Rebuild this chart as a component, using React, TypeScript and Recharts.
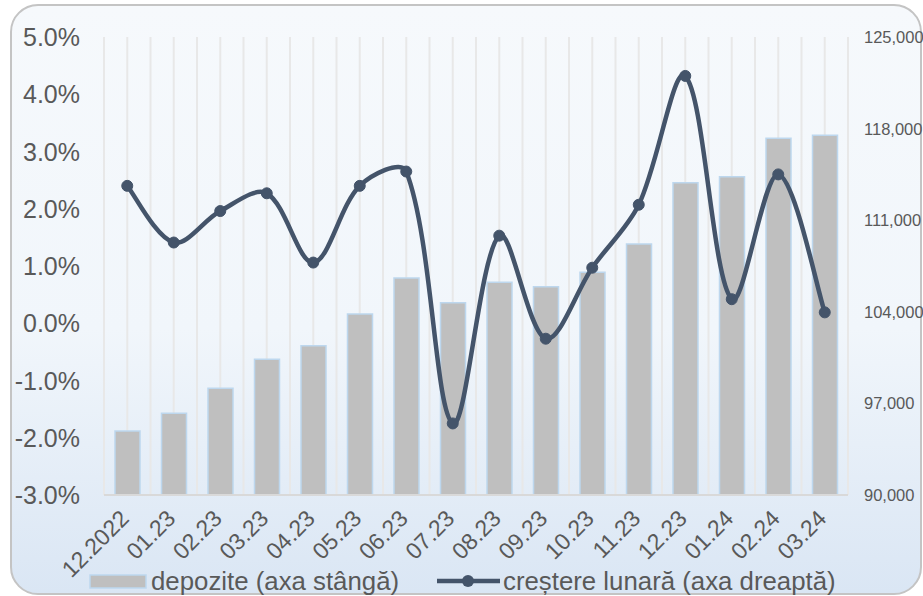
import React from 'react';
import { ComposedChart, Bar, Line, XAxis, YAxis, CartesianGrid } from 'recharts';

const categories = ['12.2022', '01.23', '02.23', '03.23', '04.23', '05.23', '06.23', '07.23', '08.23', '09.23', '10.23', '11.23', '12.23', '01.24', '02.24', '03.24'];
const deposits = [94900, 96240, 98150, 100370, 101400, 103830, 106580, 104700, 106250, 105920, 107020, 109180, 113870, 114320, 117260, 117490];
const growth = [2.40, 1.41, 1.96, 2.27, 1.06, 2.40, 2.65, -1.75, 1.53, -0.27, 0.97, 2.07, 4.32, 0.42, 2.60, 0.19];
const leftTicks = [-3, -2, -1, 0, 1, 2, 3, 4, 5];
const rightTicks = [90000, 97000, 104000, 111000, 118000, 125000];
const barLegend = 'depozite (axa stângă)';
const lineLegend = 'creștere lunară (axa dreaptă)';

const data = categories.map((c, i) => ({ cat: c, dep: deposits[i], gr: growth[i] }));

const FONT = '"Liberation Sans", Arial, sans-serif';
const TXT = '#595959';
const LINE = '#44546A';

// Excel-like smoothed curve (chord-length weighted Catmull-Rom via Bezier)
const excelCurve: any = (context: any) => {
  let pts: number[][] = [];
  const dist = (a: number[], b: number[]) => Math.hypot(b[0] - a[0], b[1] - a[1]);
  return {
    areaStart() {},
    areaEnd() {},
    lineStart() { pts = []; },
    point(x: number, y: number) { pts.push([+x, +y]); },
    lineEnd() {
      const n = pts.length;
      if (!n) return;
      context.moveTo(pts[0][0], pts[0][1]);
      if (n === 1) { context.lineTo(pts[0][0], pts[0][1]); return; }
      const outC: number[][] = [];
      const inC: number[][] = [];
      for (let i = 0; i < n; i++) {
        const p = pts[i];
        const prev = pts[i - 1] || pts[i];
        const next = pts[i + 1] || pts[i];
        const tx = next[0] - prev[0];
        const ty = next[1] - prev[1];
        const dPrev = dist(prev, p);
        const dNext = dist(p, next);
        const sum = dPrev + dNext || 1;
        let fOut = dNext / sum / 3;
        let fIn = dPrev / sum / 3;
        if (i === 0) { fOut = 1 / 6; }
        if (i === n - 1) { fIn = 1 / 6; }
        outC.push([p[0] + tx * fOut, p[1] + ty * fOut]);
        inC.push([p[0] - tx * fIn, p[1] - ty * fIn]);
      }
      for (let i = 0; i < n - 1; i++) {
        const a = outC[i];
        const b = inC[i + 1];
        const p2 = pts[i + 1];
        context.bezierCurveTo(a[0], a[1], b[0], b[1], p2[0], p2[1]);
      }
    },
  };
};

const XTick = (props: any) => {
  const { x, y, payload } = props;
  return (
    <g transform={`translate(${x + 3},${y + 25}) rotate(-45)`}>
      <text x={0} y={0} textAnchor="end" fill={TXT} fontSize={23} fontFamily={FONT}>
        {payload.value}
      </text>
    </g>
  );
};

const LeftTick = (props: any) => {
  const { y, payload } = props;
  return (
    <text x={80} y={y} dy={9} textAnchor="end" fill={TXT} fontSize={25} fontFamily={FONT}>
      {Number(payload.value).toFixed(1) + '%'}
    </text>
  );
};

const RightTick = (props: any) => {
  const { y, payload } = props;
  return (
    <text x={864} y={y} dy={6} textAnchor="start" fill={TXT} fontSize={16.5} fontFamily={FONT}>
      {Number(payload.value).toLocaleString('en-US')}
    </text>
  );
};

export default function App() {
  return (
    <div style={{ position: 'absolute', left: 0, top: 0, width: 923, height: 596, overflow: 'hidden', background: '#ffffff' }}>
      <div
        style={{
          position: 'absolute',
          left: 10,
          top: 4,
          width: 912,
          height: 591,
          boxSizing: 'border-box',
          border: '2px solid #C4C4C4',
          borderRadius: 28,
          background: 'linear-gradient(180deg, #F6F9FC 0%, #F1F6FB 55%, #DAE6F4 100%)',
        }}
      />
      <div style={{ position: 'absolute', left: 0, top: 0 }}>
        <ComposedChart
          width={923}
          height={596}
          data={data}
          margin={{ top: 37, right: 0, left: 0, bottom: 0 }}
        >
          <CartesianGrid
            horizontal={false}
            vertical
            stroke="#E8E8E8"
            strokeWidth={2}
            verticalCoordinatesGenerator={({ offset }: any) => {
              const arr: number[] = [];
              const n = categories.length * 2;
              for (let k = 0; k <= n; k++) arr.push(offset.left + (offset.width * k) / n);
              return arr;
            }}
          />
          <XAxis
            dataKey="cat"
            height={101}
            interval={0}
            tickLine={false}
            tickSize={0}
            tickMargin={0}
            axisLine={{ stroke: '#D9D9D9', strokeWidth: 2 }}
            tick={<XTick />}
          />
          <YAxis
            yAxisId="left"
            orientation="left"
            width={104}
            domain={[-3, 5]}
            ticks={leftTicks}
            axisLine={false}
            tickLine={false}
            tickSize={0}
            tick={<LeftTick />}
          />
          <YAxis
            yAxisId="right"
            orientation="right"
            width={75}
            domain={[90000, 125000]}
            ticks={rightTicks}
            axisLine={false}
            tickLine={false}
            tickSize={0}
            tick={<RightTick />}
          />
          <Bar
            yAxisId="right"
            dataKey="dep"
            barSize={25}
            fill="#BFBFBF"
            stroke="#BDD7EE"
            strokeWidth={1.5}
            isAnimationActive={false}
          />
          <Line
            yAxisId="left"
            dataKey="gr"
            type={excelCurve}
            stroke={LINE}
            strokeWidth={4.5}
            dot={{ r: 5.5, fill: LINE, stroke: LINE, strokeWidth: 1 }}
            activeDot={false}
            isAnimationActive={false}
          />
        </ComposedChart>
      </div>
      <svg width={923} height={596} style={{ position: 'absolute', left: 0, top: 0, pointerEvents: 'none' }}>
        <rect x={90} y={575} width={56} height={13} fill="#BFBFBF" stroke="#BDD7EE" strokeWidth={1.5} />
        <text x={151} y={590} fill={TXT} fontSize={25.8} fontFamily={FONT}>{barLegend}</text>
        <line x1={437} y1={581} x2={500} y2={581} stroke={LINE} strokeWidth={4.5} />
        <circle cx={468} cy={581} r={6} fill={LINE} />
        <text x={503} y={590} fill={TXT} fontSize={25.8} fontFamily={FONT}>{lineLegend}</text>
      </svg>
    </div>
  );
}
